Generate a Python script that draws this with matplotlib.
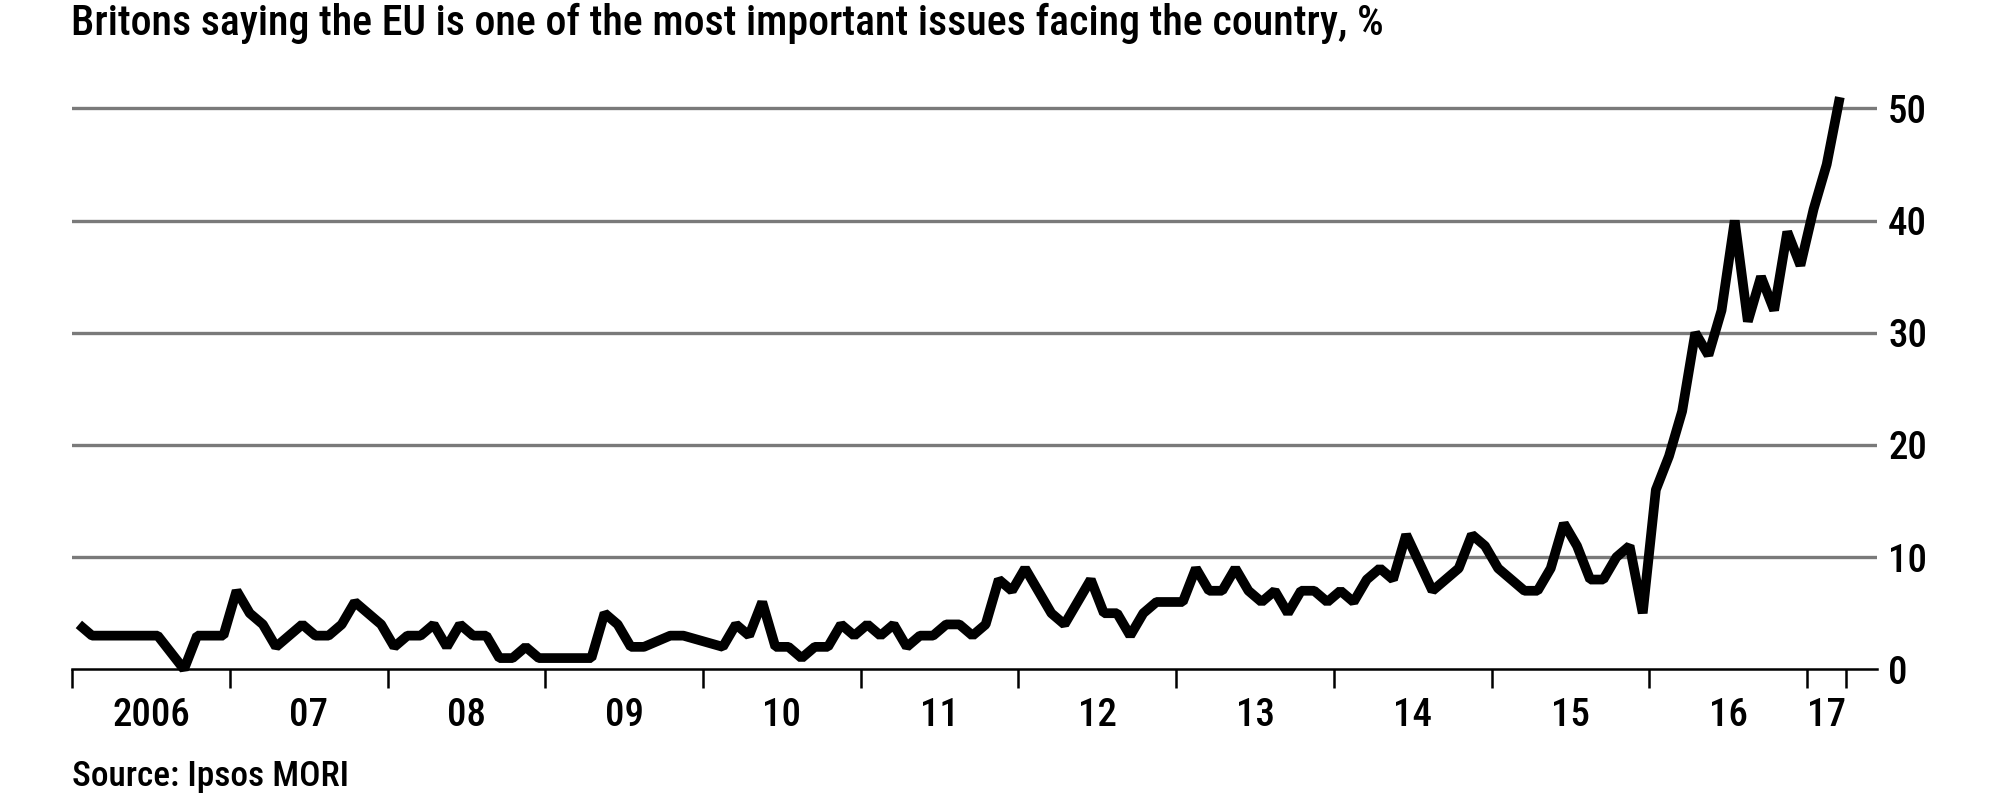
import numpy as np
import matplotlib
matplotlib.use('Agg')
import matplotlib.pyplot as plt
from matplotlib import font_manager

# monthly share of Britons naming the EU as a top issue, % (None = no reading)
eu_2006 = [4, 3, 3, 3, 3, 3, 3, None, 0, 3, 3, 3]
eu_2007 = [7, 5, 4, 2, 3, 4, 3, 3, 4, 6, 5, 4]
eu_2008 = [2, 3, 3, 4, 2, 4, 3, 3, 1, 1, 2, 1]
eu_2009 = [1, 1, 1, 1, 5, 4, 2, 2, None, 3, 3, None]
eu_2010 = [None, 2, 4, 3, 6, 2, 2, 1, 2, 2, 4, 3]
eu_2011 = [4, 3, 4, 2, 3, 3, 4, 4, 3, 4, 8, 7]
eu_2012 = [9, None, 5, 4, None, 8, 5, 5, 3, 5, 6, 6]
eu_2013 = [6, 9, 7, 7, 9, 7, 6, 7, 5, 7, 7, 6]
eu_2014 = [7, 6, 8, 9, 8, 12, None, 7, 8, 9, 12, 11]
eu_2015 = [9, 8, 7, 7, 9, 13, 11, 8, 8, 10, 11, 5]
eu_2016 = [16, 19, 23, 30, 28, 32, 40, 31, 35, 32, 39, 36]
eu_2017 = [41, 45, 51]

years = list(range(2006, 2018))
year_labels = ['2006', '07', '08', '09', '10', '11', '12', '13', '14', '15', '16', '17']
y_ticks = [0, 10, 20, 30, 40, 50]

title = 'Britons saying the EU is one of the most important issues facing the country, %'
source = 'Source: Ipsos MORI'

# pick a narrow-ish font that is actually installed
avail = {f.name for f in font_manager.fontManager.ttflist}
font = 'DejaVu Sans'
for name in ['Roboto Condensed', 'Liberation Sans Narrow', 'Open Sans Condensed', 'Roboto']:
    if name in avail:
        font = name
        break
plt.rcParams['font.family'] = [font, 'DejaVu Sans']
plt.rcParams['font.weight'] = 'medium'

x, v = [], []
for yr, vals in zip(years, [eu_2006, eu_2007, eu_2008, eu_2009, eu_2010, eu_2011,
                            eu_2012, eu_2013, eu_2014, eu_2015, eu_2016, eu_2017]):
    for m, val in enumerate(vals):
        if val is not None:
            x.append(yr + (m + 0.5) / 12)
            v.append(val)

fig = plt.figure(figsize=(20, 7.96), dpi=100)
ax = fig.add_axes([0.03615, 0.15917, 0.90235, 0.7329])
ax.set_xlim(2006, 2017.444)
ax.set_ylim(0, 52)

for t in y_ticks[1:]:
    ax.axhline(t, color='#7a7a7a', lw=2.4, zorder=1)

ax.plot(x, v, color='black', lw=7, solid_joinstyle='bevel',
        solid_capstyle='butt', zorder=3, clip_on=False)

for s in ['top', 'left', 'right']:
    ax.spines[s].set_visible(False)
ax.spines['bottom'].set_linewidth(1.8)
ax.spines['bottom'].set_zorder(2)

major = years + [2017.25]
ax.set_xticks(major)
ax.set_xticklabels([''] * len(major))
minor = [yr + 0.5 for yr in years[:-1]] + [2017.125]
ax.set_xticks(minor, minor=True)
ax.set_xticklabels(year_labels, minor=True)
ax.tick_params(axis='x', which='major', direction='out', length=13.5, width=1.8, color='black')
ax.tick_params(axis='x', which='minor', length=0, pad=20, labelsize=28)

ax.yaxis.tick_right()
ax.set_yticks(y_ticks)
ax.set_yticklabels([str(t) for t in y_ticks])
ax.tick_params(axis='y', length=0, pad=8, labelsize=28)

fig.text(0.0357, 0.956, title, fontsize=30.2, ha='left', va='baseline')
fig.text(0.0362, 0.0126, source, fontsize=25.5, ha='left', va='baseline')

fig.savefig('out.png', dpi=100)
